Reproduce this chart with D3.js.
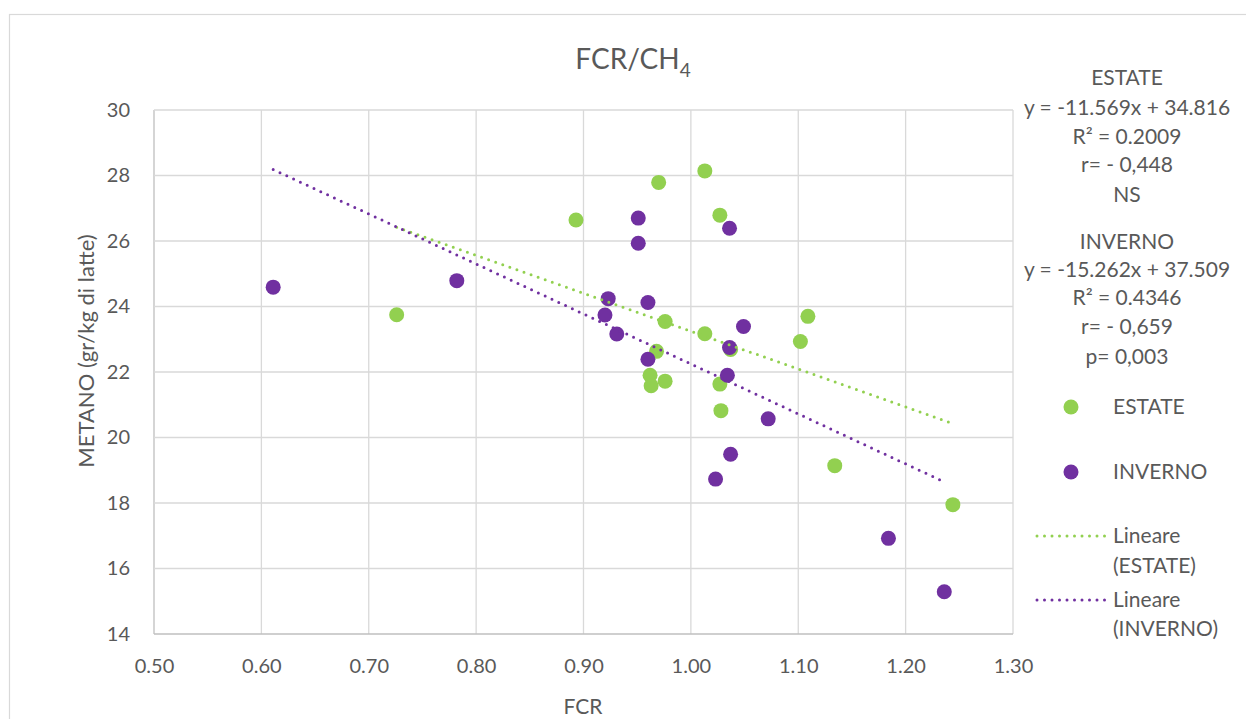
<!DOCTYPE html>
<html>
<head>
<meta charset="utf-8">
<script src="https://cdn.jsdelivr.net/npm/d3@7"></script>
<style>
  body { margin: 0; background: #fff; }
  svg text { font-family: Lato, "Noto Sans", sans-serif; fill: #595959; }
</style>
</head>
<body>
<svg width="1246" height="719"></svg>
<script>
// FCR / methane data
var estateFCR = [0.726, 0.893, 1.013, 0.970, 1.027, 0.976, 1.013, 1.109, 1.102, 0.968, 1.037, 0.962, 0.963, 0.976, 1.027, 1.028, 1.134, 1.244];
var estateCH4 = [23.75, 26.64, 28.14, 27.79, 26.79, 23.54, 23.17, 23.70, 22.93, 22.63, 22.69, 21.90, 21.58, 21.72, 21.63, 20.82, 19.14, 17.95];
var invernoFCR = [0.611, 0.782, 0.951, 0.951, 1.036, 0.923, 0.960, 0.920, 0.931, 1.049, 1.036, 0.960, 1.034, 1.072, 1.037, 1.023, 1.184, 1.236];
var invernoCH4 = [24.59, 24.79, 26.70, 25.93, 26.39, 24.24, 24.12, 23.74, 23.16, 23.39, 22.75, 22.39, 21.90, 20.57, 19.49, 18.73, 16.92, 15.29];

// trend line coefficients (slope, intercept)
var estateFit = [-11.569, 34.816];
var invernoFit = [-15.262, 37.509];

var xTicks = [0.5, 0.6, 0.7, 0.8, 0.9, 1.0, 1.1, 1.2, 1.3];
var yTicks = [14, 16, 18, 20, 22, 24, 26, 28, 30];

var estateNotes = ["ESTATE", "y = -11.569x + 34.816", "R² = 0.2009", "r= - 0,448", "NS"];
var invernoNotes = ["INVERNO", "y = -15.262x + 37.509", "R² = 0.4346", "r= - 0,659", "p= 0,003"];

var green = "#92d050", purple = "#7030a0";

var svg = d3.select("svg");

// chart area border
svg.append("rect")
  .attr("x", 9.5).attr("y", 14.5)
  .attr("width", 1250).attr("height", 720)
  .attr("fill", "none").attr("stroke", "#d9d9d9").attr("stroke-width", 1.2);

var margin = {top: 110, left: 154},
    width = 1013 - 154,
    height = 634 - 110;

var x = d3.scaleLinear().domain([0.5, 1.3]).range([0, width]),
    y = d3.scaleLinear().domain([14, 30]).range([height, 0]);

var g = svg.append("g").attr("transform", "translate(" + margin.left + "," + margin.top + ")");

// gridlines
g.selectAll(".vgrid").data(xTicks).enter().append("line")
  .attr("x1", function(d) { return x(d); }).attr("x2", function(d) { return x(d); })
  .attr("y1", 0).attr("y2", height)
  .attr("stroke", function(d, i) { return i == 0 ? "#bfbfbf" : "#d9d9d9"; })
  .attr("stroke-width", 1.3);
g.selectAll(".hgrid").data(yTicks).enter().append("line")
  .attr("y1", function(d) { return y(d); }).attr("y2", function(d) { return y(d); })
  .attr("x1", 0).attr("x2", width)
  .attr("stroke", function(d, i) { return i == 0 ? "#bfbfbf" : "#d9d9d9"; })
  .attr("stroke-width", 1.3);

// axes (labels only)
var xAxis = g.append("g")
  .attr("transform", "translate(0," + height + ")")
  .call(d3.axisBottom(x).tickValues(xTicks).tickFormat(d3.format(".2f")).tickSize(0).tickPadding(25));
var yAxis = g.append("g")
  .call(d3.axisLeft(y).tickValues(yTicks).tickSize(0).tickPadding(24));
[xAxis, yAxis].forEach(function(a) {
  a.select(".domain").remove();
  a.selectAll("text").style("font-size", "20px").attr("font-family", null).style("fill", "#595959");
});

// trend lines
function trend(xs, fit) {
  var lo = d3.min(xs), hi = d3.max(xs);
  return [[lo, fit[0] * lo + fit[1]], [hi, fit[0] * hi + fit[1]]];
}
var line = d3.line().x(function(d) { return x(d[0]); }).y(function(d) { return y(d[1]); });

// points
function dots(xs, ys, color) {
  g.append("g").selectAll("circle")
    .data(d3.zip(xs, ys))
    .enter().append("circle")
      .attr("cx", function(d) { return x(d[0]); })
      .attr("cy", function(d) { return y(d[1]); })
      .attr("r", 7.5)
      .attr("fill", color);
}
dots(estateFCR, estateCH4, green);
dots(invernoFCR, invernoCH4, purple);

g.append("path").datum(trend(estateFCR, estateFit)).attr("d", line)
  .attr("stroke", green).attr("stroke-width", 3).attr("fill", "none")
  .attr("stroke-linecap", "round").attr("stroke-dasharray", "0,7.5");
g.append("path").datum(trend(invernoFCR, invernoFit)).attr("d", line)
  .attr("stroke", purple).attr("stroke-width", 3).attr("fill", "none")
  .attr("stroke-linecap", "round").attr("stroke-dasharray", "0,7.5");

// title
var title = svg.append("text").attr("x", 633).attr("y", 69)
  .attr("text-anchor", "middle").style("font-size", "28px");
title.append("tspan").text("FCR/CH");
title.append("tspan").text("4").attr("dy", 8).style("font-size", "19px");

// axis titles
svg.append("text").attr("x", 583).attr("y", 714).attr("text-anchor", "middle")
  .style("font-size", "21px").text("FCR");
svg.append("text").attr("transform", "translate(94,351) rotate(-90)")
  .attr("text-anchor", "middle").style("font-size", "22px").text("METANO (gr/kg di latte)");

// equation notes
var noteY1 = [78, 108, 137, 165, 195];
var noteY2 = [242, 270, 298, 327, 357];
svg.append("g").selectAll("text").data(estateNotes).enter().append("text")
  .attr("x", 1127).attr("y", function(d, i) { return noteY1[i]; })
  .attr("dy", "0.35em").attr("text-anchor", "middle").style("font-size", "21px")
  .text(function(d) { return d; });
svg.append("g").selectAll("text").data(invernoNotes).enter().append("text")
  .attr("x", 1127).attr("y", function(d, i) { return noteY2[i]; })
  .attr("dy", "0.35em").attr("text-anchor", "middle").style("font-size", "21px")
  .text(function(d) { return d; });

// legend
var leg = svg.append("g");
leg.append("circle").attr("cx", 1071).attr("cy", 407).attr("r", 7.5).attr("fill", green);
leg.append("circle").attr("cx", 1071).attr("cy", 472).attr("r", 7.5).attr("fill", purple);
leg.append("text").attr("x", 1113).attr("y", 407).attr("dy", "0.35em").style("font-size", "21px").text("ESTATE");
leg.append("text").attr("x", 1113).attr("y", 472).attr("dy", "0.35em").style("font-size", "21px").text("INVERNO");
leg.append("line").attr("x1", 1037).attr("x2", 1105).attr("y1", 536).attr("y2", 536)
  .attr("stroke", green).attr("stroke-width", 3).attr("stroke-linecap", "round").attr("stroke-dasharray", "0,7.5");
leg.append("line").attr("x1", 1037).attr("x2", 1105).attr("y1", 600).attr("y2", 600)
  .attr("stroke", purple).attr("stroke-width", 3).attr("stroke-linecap", "round").attr("stroke-dasharray", "0,7.5");
[["Lineare", 536], ["(ESTATE)", 566], ["Lineare", 600], ["(INVERNO)", 629]].forEach(function(t) {
  leg.append("text").attr("x", 1113).attr("y", t[1]).attr("dy", "0.35em").style("font-size", "21px").text(t[0]);
});
</script>
</body>
</html>
